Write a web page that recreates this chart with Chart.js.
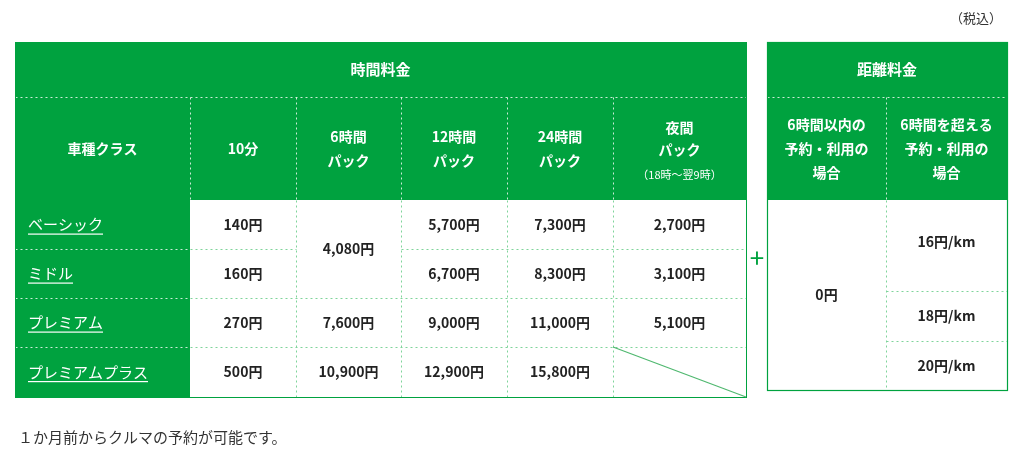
<!DOCTYPE html>
<html><head><meta charset="utf-8">
<script src="https://cdn.jsdelivr.net/npm/chart.js@4"></script>
<style>html,body{margin:0;padding:0;background:#fff}#w{width:1024px;height:459px}</style>
</head><body><div id="w"><canvas id="c"></canvas></div>
<script>
const classes = ["ベーシック","ミドル","プレミアム","プレミアムプラス"];
const colHeaders = [["車種クラス"],["10分"],["6時間","パック"],["12時間","パック"],["24時間","パック"],["夜間","パック"]];
const price10m = ["140円","160円","270円","500円"];
const price6h = ["4,080円","4,080円","7,600円","10,900円"];
const price12h = ["5,700円","6,700円","9,000円","12,900円"];
const price24h = ["7,300円","8,300円","11,000円","15,800円"];
const priceNight = ["2,700円","3,100円","5,100円",""];
const distHeaders = [["6時間以内の","予約・利用の","場合"],["6時間を超える","予約・利用の","場合"]];
const distWithin6 = ["0円"];
const distOver6 = ["16円/km","18円/km","20円/km"];

const G = "#00a23f", DOT = "#7fd49a", F = "'Noto Sans CJK JP', sans-serif";
const L = {x:[15,190,296,401,507,613,746], y:[42,97,200,249,298,347,397], rx:[767,886,1007], ry:[200,291,341,390]};

const tablePlugin = {id:'tbl', afterDraw(ch){
  const c = ch.ctx, sx = ch.scales.x, sy = ch.scales.y;
  const X = v=>sx.getPixelForValue(v), Y = v=>sy.getPixelForValue(v);
  const rect=(x0,y0,x1,y1,f)=>{c.fillStyle=f;c.fillRect(X(x0),Y(y0),X(x1)-X(x0),Y(y1)-Y(y0));};
  const txt=(s,x,y,o={})=>{c.font=(o.b===false?'':'bold ')+(o.s||14)+'px '+F;c.fillStyle=o.c||'#222';c.textAlign=o.a||'center';c.textBaseline='middle';c.fillText(s,X(x),Y(y));
    if(o.u){const w=c.measureText(s).width;c.fillRect(X(x),Y(y)+9,w,1.2);}};
  const lines=(arr,x,yc,o={})=>{const lh=o.lh||23;arr.forEach((s,i)=>txt(s,x,yc+(i-(arr.length-1)/2)*lh,o));};
  const dl=(x0,y0,x1,y1,col,w)=>{c.save();c.strokeStyle=col||DOT;c.lineWidth=w||1;c.setLineDash([2,3]);c.beginPath();c.moveTo(X(x0)+.5,Y(y0)+.5);c.lineTo(X(x1)+.5,Y(y1)+.5);c.stroke();c.restore();};
  c.save();
  // left table
  rect(L.x[0],L.y[0],L.x[6],L.y[2],G);
  rect(L.x[0],L.y[2],L.x[1],L.y[6],G);
  txt("時間料金",(L.x[0]+L.x[6])/2,(L.y[0]+L.y[1])/2,{c:'#fff',s:15});
  colHeaders.forEach((h,i)=>{const cx=(L.x[i]+L.x[i+1])/2, cy=(L.y[1]+L.y[2])/2;
    if(i===5){lines(h,cx,cy-10,{c:'#fff',lh:22});txt("（18時～翌9時）",cx,cy+26,{c:'#fff',s:11,b:false});}
    else lines(h,cx,cy,{c:'#fff',lh:24});});
  dl(L.x[0],L.y[1],L.x[6],L.y[1],'#ffffffcc');
  for(let i=1;i<6;i++) dl(L.x[i],L.y[1],L.x[i],L.y[2],'#ffffffcc');
  for(let r=1;r<4;r++) dl(L.x[0],L.y[2+r],L.x[1],L.y[2+r],'#ffffffcc');
  // body grid
  for(let r=1;r<4;r++){ if(r===1){dl(L.x[1],L.y[3],L.x[2],L.y[3]);dl(L.x[3],L.y[3],L.x[6],L.y[3]);} else dl(L.x[1],L.y[2+r],L.x[6],L.y[2+r]); }
  for(let i=2;i<6;i++) dl(L.x[i],L.y[2],L.x[i],L.y[6]);
  c.strokeStyle=G;c.lineWidth=1;c.strokeRect(X(L.x[0])+.5,Y(L.y[0])+.5,X(L.x[6])-X(L.x[0]),Y(L.y[6])-Y(L.y[0]));
  // diagonal
  c.strokeStyle="#4fb86f";c.lineWidth=1.2;c.beginPath();c.moveTo(X(L.x[5]),Y(L.y[5]));c.lineTo(X(L.x[6]),Y(L.y[6]));c.stroke();
  classes.forEach((n,r)=>{const cy=(L.y[2+r]+L.y[3+r])/2;
    txt(n,28,cy,{c:'#fff',a:'left',b:false,s:15,u:true});
    txt(price10m[r],(L.x[1]+L.x[2])/2,cy);
    if(r!==1) txt(price6h[r],(L.x[2]+L.x[3])/2, r===0?(L.y[2]+L.y[4])/2:cy);
    txt(price12h[r],(L.x[3]+L.x[4])/2,cy);
    txt(price24h[r],(L.x[4]+L.x[5])/2,cy);
    if(priceNight[r]) txt(priceNight[r],(L.x[5]+L.x[6])/2,cy);});
  // plus
  txt("+",757,258,{c:G,s:26,b:false});
  // right table
  rect(L.rx[0],L.y[0],L.rx[2],L.y[2],G);
  txt("距離料金",(L.rx[0]+L.rx[2])/2,(L.y[0]+L.y[1])/2,{c:'#fff',s:15});
  dl(L.rx[0],L.y[1],L.rx[2],L.y[1],'#ffffffcc');
  dl(L.rx[1],L.y[1],L.rx[1],L.y[2],'#ffffffcc');
  distHeaders.forEach((h,i)=>lines(h,(L.rx[i]+L.rx[i+1])/2,(L.y[1]+L.y[2])/2,{c:'#fff',lh:24}));
  dl(L.rx[1],L.ry[0],L.rx[1],L.ry[3]);
  dl(L.rx[1],L.ry[1],L.rx[2],L.ry[1]);dl(L.rx[1],L.ry[2],L.rx[2],L.ry[2]);
  c.strokeStyle=G;c.strokeRect(X(L.rx[0])+.5,Y(L.y[0])+.5,X(L.rx[2])-X(L.rx[0]),Y(L.ry[3])-Y(L.y[0]));
  txt(distWithin6[0],(L.rx[0]+L.rx[1])/2,(L.ry[0]+L.ry[3])/2);
  distOver6.forEach((v,i)=>txt(v,(L.rx[1]+L.rx[2])/2,(L.ry[i]+L.ry[i+1])/2 - (i===0?4:0)));
  // notes
  txt("（税込）",1002,18,{a:'right',b:false,s:13,c:'#333'});
  txt("１か月前からクルマの予約が可能です。",18,437,{a:'left',b:false,s:15,c:'#333'});
  c.restore();
}};

new Chart(document.getElementById('c'),{type:'scatter',data:{datasets:[{data:[]}]},
  options:{responsive:true,maintainAspectRatio:false,animation:false,layout:{padding:0},
    plugins:{legend:{display:false},tooltip:{enabled:false}},
    scales:{x:{type:'linear',min:0,max:1024,display:false},y:{type:'linear',min:0,max:459,reverse:true,display:false}}},
  plugins:[tablePlugin]});
</script></body></html>
